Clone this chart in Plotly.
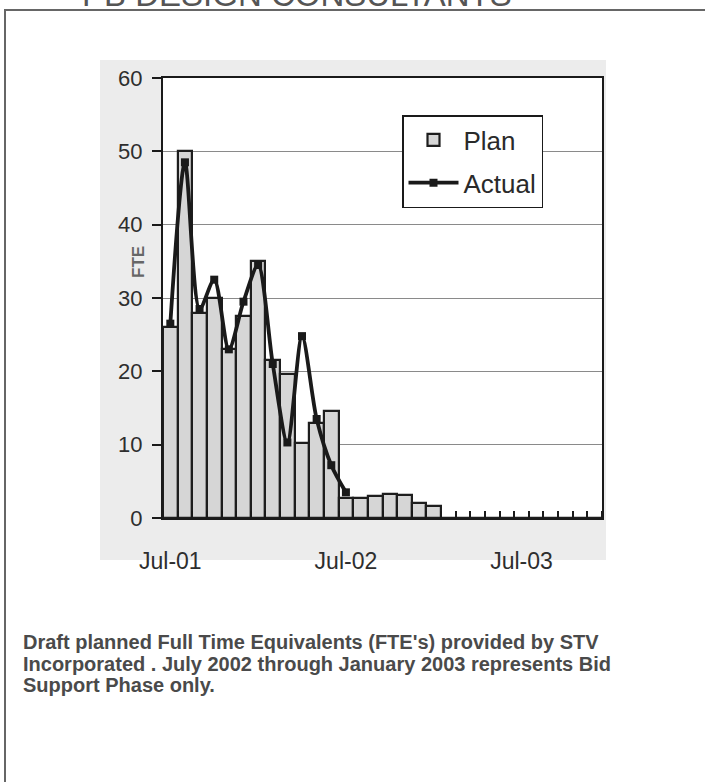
import plotly.graph_objects as go

months = ["Jul-01", "Aug-01", "Sep-01", "Oct-01", "Nov-01", "Dec-01",
          "Jan-02", "Feb-02", "Mar-02", "Apr-02", "May-02", "Jun-02",
          "Jul-02", "Aug-02", "Sep-02", "Oct-02", "Nov-02", "Dec-02",
          "Jan-03", "Feb-03", "Mar-03", "Apr-03", "May-03", "Jun-03",
          "Jul-03", "Aug-03", "Sep-03", "Oct-03", "Nov-03", "Dec-03"]
plan = [26, 50, 28, 30, 23, 27.5, 35, 21.5, 19.7, 10.2, 13, 14.6,
        2.7, 2.7, 3.0, 3.3, 3.1, 2.1, 1.7, 0, 0, 0, 0, 0, 0, 0, 0, 0, 0, 0]
actual = [26.5, 48.5, 28.5, 32.5, 23, 29.5, 34.5, 21, 10.3, 24.8, 13.5, 7.2, 3.5]
label_months = ["Jul-01", "Jul-02", "Jul-03"]
yticks = [0, 10, 20, 30, 40, 50, 60]

caption_lines = [
    "Draft planned Full Time Equivalents (FTE's) provided by STV",
    "Incorporated . July 2002 through January 2003 represents Bid",
    "Support Phase only.",
]
header = "PB DESIGN CONSULTANTS"

W, H = 705, 782
L, R, T, B = 163, 602, 78, 518  # plot area in pixels


def px(xp):
    return (xp - L) / (R - L)


def py(yp):
    return (B - yp) / (B - T)


FONT = "Arial, Liberation Sans, Helvetica, sans-serif"
xi = list(range(len(months)))

fig = go.Figure()
fig.add_trace(go.Bar(
    x=xi, y=plan, name="Plan", width=1.0, legendgroup="plan",
    marker=dict(color="#d6d6d6", line=dict(color="#1e1e1e", width=2.2)),
))
fig.add_trace(go.Scatter(
    x=xi[:len(actual)], y=actual, name="Actual", mode="lines+markers",
    legendgroup="actual",
    line=dict(color="#1a1a1a", width=3.8, shape="spline", smoothing=0.8),
    marker=dict(symbol="square", size=8, color="#1a1a1a"),
))

tickpos = [months.index(m) for m in label_months]

fig.update_layout(
    width=W, height=H,
    margin=dict(l=L, r=W - R, t=T, b=H - B, pad=0),
    paper_bgcolor="white", plot_bgcolor="white",
    font=dict(family=FONT, color="#333"),
    bargap=0,
    showlegend=True,
    legend=dict(
        x=px(402), y=py(115), xanchor="left", yanchor="top",
        bgcolor="white", bordercolor="#1a1a1a", borderwidth=1.5,
        font=dict(size=26, color="#2a2a2a", family=FONT),
        itemwidth=50, tracegroupgap=6,
    ),
    xaxis=dict(
        range=[-0.5, len(months) - 0.5],
        tickmode="array", tickvals=tickpos, ticktext=label_months,
        ticks="", showgrid=False, zeroline=False,
        showline=True, linecolor="#1a1a1a", linewidth=2, mirror=True,
        tickfont=dict(size=23, color="#2e2e2e", family=FONT),
        ticklabelstandoff=21,
        minor=dict(ticks="inside", tick0=0.5, dtick=1, ticklen=7,
                   tickcolor="#1a1a1a", tickwidth=1.5, showgrid=False),
    ),
    yaxis=dict(
        range=[0, 60], tickmode="array", tickvals=yticks,
        ticks="outside", ticklen=9, tickcolor="#1a1a1a", tickwidth=1.5,
        showgrid=True, gridcolor="#8a8a8a", gridwidth=1,
        zeroline=False,
        showline=True, linecolor="#1a1a1a", linewidth=2, mirror=True,
        tickfont=dict(size=22, color="#2e2e2e", family=FONT),
        ticklabelstandoff=5,
    ),
)

shapes = [
    # light gray chart area from the scan
    dict(type="rect", xref="paper", yref="paper",
         x0=px(100), x1=px(606), y0=py(560), y1=py(60),
         fillcolor="#ececec", line=dict(width=0), layer="below"),
    dict(type="rect", xref="paper", yref="paper",
         x0=0, x1=1, y0=0, y1=1,
         fillcolor="white", line=dict(width=0), layer="below"),
    # page rules
    dict(type="line", xref="paper", yref="paper",
         x0=px(4), x1=px(705), y0=py(10), y1=py(10),
         line=dict(color="#666", width=2)),
    dict(type="line", xref="paper", yref="paper",
         x0=px(5), x1=px(5), y0=py(10), y1=py(782),
         line=dict(color="#666", width=2)),
]
fig.update_layout(shapes=shapes)

fig.add_annotation(
    text=header, xref="paper", yref="paper",
    x=px(297), y=py(15), xanchor="center", yanchor="bottom",
    showarrow=False, font=dict(size=33, color="#555", family=FONT),
)
fig.add_annotation(
    text="<b>FTE</b>", xref="paper", yref="paper",
    x=px(138), y=py(262), xanchor="center", yanchor="middle",
    textangle=-90, showarrow=False,
    font=dict(size=17, color="#666", family=FONT),
)
for i, line in enumerate(caption_lines):
    fig.add_annotation(
        text="<b>" + line + "</b>", xref="paper", yref="paper",
        x=px(21), y=py(642 + 21.5 * i), xanchor="left", yanchor="middle",
        align="left", showarrow=False,
        font=dict(size=20, color="#4a4a4a", family=FONT),
    )

fig.write_html(
    "out.html",
    config={"displayModeBar": False},
    post_script="document.body.style.margin='0';document.body.style.overflow='hidden';",
)
